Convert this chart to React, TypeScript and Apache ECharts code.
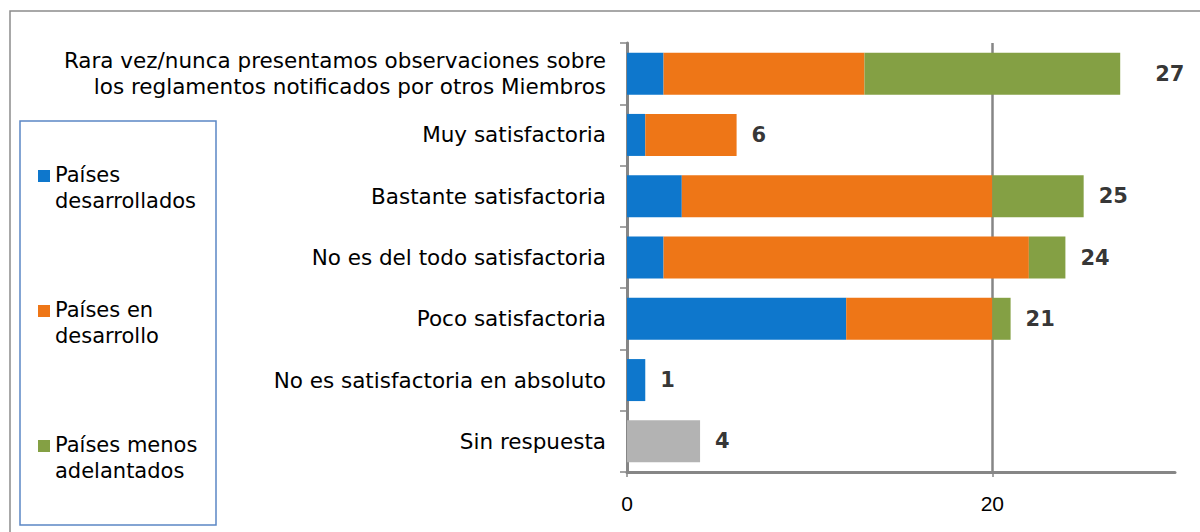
import React, { useEffect, useRef } from "react";
import * as echarts from "echarts";

const categories = [
  "Rara vez/nunca presentamos observaciones sobre\nlos reglamentos notificados por otros Miembros",
  "Muy satisfactoria",
  "Bastante satisfactoria",
  "No es del todo satisfactoria",
  "Poco satisfactoria",
  "No es satisfactoria en absoluto",
  "Sin respuesta",
];
const desarrollados = [2, 1, 3, 2, 12, 1, null];
const enDesarrollo = [11, 5, 17, 20, 8, null, null];
const menosAdelantados = [14, null, 5, 2, 1, null, null];
const sinRespuesta = [null, null, null, null, null, null, 4];
const totals = [27, 6, 25, 24, 21, 1, 4];
const legendNames = ["Países\ndesarrollados", "Países en\ndesarrollo", "Países menos\nadelantados"];
const xTicks = [0, 20];

const COLORS = ["#0E77CC", "#EE7617", "#84A044", "#B3B3B3"];
const FONT = "DejaVu Sans, Verdana, sans-serif";
const AXIS = "#868686";

export default function App() {
  const ref = useRef<HTMLDivElement>(null);
  useEffect(() => {
    const chart = echarts.init(ref.current!, null, { renderer: "svg" });
    const legendTops = [170, 305, 440];
    const option: any = {
      animation: false,
      grid: { left: 627, right: 25, top: 43, bottom: 60, containLabel: false },
      xAxis: {
        type: "value",
        min: 0,
        max: 30,
        interval: 20,
        axisLine: { show: true, lineStyle: { color: AXIS, width: 3 } },
        axisTick: { show: true, length: 5, customValues: xTicks, lineStyle: { color: AXIS, width: 1.5 } },
        axisLabel: {
          margin: 21,
          formatter: (v: number) => (xTicks.indexOf(v) >= 0 ? String(v) : ""),
          fontFamily: "Liberation Sans, Arial, sans-serif",
          fontSize: 21,
          color: "#000",
        },
        splitLine: { show: false },
      },
      yAxis: {
        type: "category",
        inverse: true,
        data: categories,
        axisLine: { show: true, lineStyle: { color: AXIS, width: 3 } },
        axisTick: { show: true, length: 7, alignWithLabel: false, lineStyle: { color: AXIS, width: 1.5 } },
        axisLabel: {
          margin: 21,
          fontFamily: FONT,
          fontSize: 21.5,
          color: "#000",
          lineHeight: 26,
          align: "right",
        },
      },
      series: [
        {
          name: "Países desarrollados",
          type: "bar",
          stack: "t",
          data: desarrollados,
          barWidth: 42,
          itemStyle: { color: COLORS[0] },
          markLine: {
            silent: true,
            symbol: "none",
            label: { show: false },
            lineStyle: { color: AXIS, width: 2.5, type: "solid" },
            data: [{ xAxis: 20 }],
            z: 1,
          },
        },
        { name: "Países en desarrollo", type: "bar", stack: "t", data: enDesarrollo, barWidth: 42, itemStyle: { color: COLORS[1] } },
        { name: "Países menos adelantados", type: "bar", stack: "t", data: menosAdelantados, barWidth: 42, itemStyle: { color: COLORS[2] } },
        { name: "Sin respuesta", type: "bar", stack: "t", data: sinRespuesta, barWidth: 42, itemStyle: { color: COLORS[3] } },
        {
          name: "Total",
          type: "scatter",
          symbolSize: 0,
          silent: true,
          data: totals.map((v, i) => ({
            value: [v, i],
            label: { offset: [i === 0 ? 20 : 0, 0] },
          })),
          label: {
            show: true,
            position: "right",
            distance: 15,
            formatter: (p: any) => String(p.value[0]),
            fontFamily: FONT,
            fontWeight: "bold",
            fontSize: 21,
            color: "#000",
          },
        },
      ],
      graphic: [
        {
          type: "rect",
          shape: { x: 10, y: 11, width: 1200, height: 530 },
          style: { fill: "none", stroke: "#8C8C8C", lineWidth: 1.5 },
          silent: true,
        },
        {
          type: "rect",
          shape: { x: 20, y: 121, width: 196, height: 404 },
          style: { fill: "none", stroke: "#5B87C5", lineWidth: 1.5 },
          silent: true,
        },
        ...legendNames.flatMap((name, i) => [
          {
            type: "rect",
            shape: { x: 38, y: legendTops[i], width: 12, height: 12 },
            style: { fill: COLORS[i] },
          },
          {
            type: "text",
            x: 55,
            y: legendTops[i] - 8,
            style: {
              text: name,
              fontFamily: FONT,
              fontSize: 21,
              lineHeight: 26,
              fill: "#000",
              textVerticalAlign: "top",
            },
          },
        ]),
      ],
    };
    chart.setOption(option);
    return () => chart.dispose();
  }, []);
  return (
    <div
      ref={ref}
      style={{ position: "absolute", left: 0, top: 0, width: 1200, height: 532, background: "#fff" }}
    />
  );
}
